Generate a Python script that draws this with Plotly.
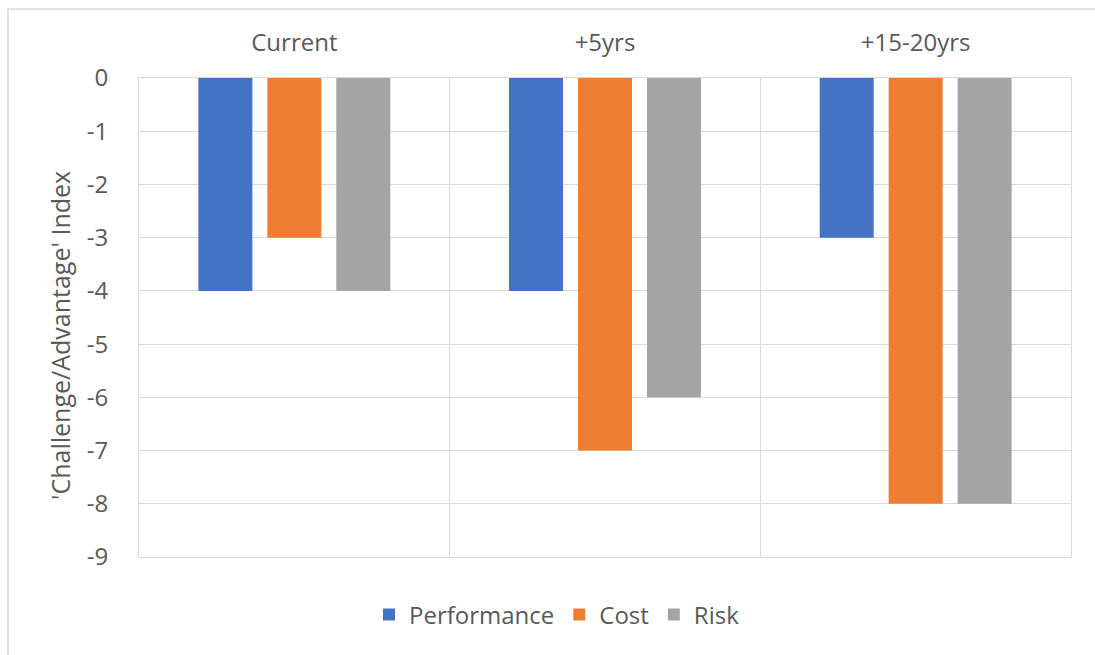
import plotly.graph_objects as go

categories = ["Current", "+5yrs", "+15-20yrs"]
performance = [-4, -4, -3]
cost = [-3, -7, -8]
risk = [-4, -6, -8]
y_ticks = [0, -1, -2, -3, -4, -5, -6, -7, -8, -9]

W, H = 1095, 655
L, R, T, B = 139, 1071, 78, 557

FONT = "Open Sans"
TXT = "#595959"
GRID = "#d9d9d9"
FS = 24

xpos = list(range(len(categories)))

fig = go.Figure()
for name, vals, col in [("Performance", performance, "#4472C4"),
                        ("Cost", cost, "#ED7D31"),
                        ("Risk", risk, "#A5A5A5")]:
    fig.add_trace(go.Bar(x=xpos, y=vals, name=name, marker=dict(color=col, line=dict(width=0))))

fig.update_layout(
    width=W, height=H,
    margin=dict(l=L, r=W - R, t=T, b=H - B, pad=0),
    paper_bgcolor="white", plot_bgcolor="white",
    font=dict(family=FONT, size=FS, color=TXT),
    barmode="group", bargap=0.334, bargroupgap=0.217,
    showlegend=True,
    legend=dict(orientation="h", x=(369 - L) / (R - L), xanchor="left",
                y=(B - 615) / (B - T), yanchor="middle",
                font=dict(family=FONT, size=FS, color=TXT),
                itemsizing="constant", traceorder="normal"),
    xaxis=dict(side="top", tickmode="array", tickvals=xpos, ticktext=categories,
               range=[-0.5, len(categories) - 0.5], showgrid=False, zeroline=False,
               showline=True, mirror=True, linecolor=GRID, linewidth=1,
               ticks="", ticklabelstandoff=16,
               tickfont=dict(family=FONT, size=FS, color=TXT),
               minor=dict(tickmode="array", tickvals=[0.5, 1.5], showgrid=True,
                          gridcolor=GRID, gridwidth=1, ticks="")),
    yaxis=dict(range=[-9, 0], tickmode="array", tickvals=y_ticks,
               ticktext=[str(v) for v in y_ticks],
               showgrid=True, gridcolor=GRID, gridwidth=1, zeroline=False,
               showline=True, mirror=True, linecolor=GRID, linewidth=1,
               ticks="", ticklabelstandoff=25,
               tickfont=dict(family=FONT, size=FS, color=TXT)),
)

fig.add_annotation(text="'Challenge/Advantage' Index", textangle=-90,
                   xref="paper", yref="paper",
                   x=(60 - L) / (R - L), y=(B - 336) / (B - T),
                   xanchor="center", yanchor="middle", showarrow=False,
                   font=dict(family=FONT, size=25, color=TXT))

# outer chart frame (cropped at right/bottom)
fig.add_shape(type="rect", xref="paper", yref="paper",
              x0=(8 - L) / (R - L), y0=(B - 700) / (B - T),
              x1=(1200 - L) / (R - L), y1=(B - 9) / (B - T),
              line=dict(color=GRID, width=1.5), layer="below")

fig.write_html("out.html")
